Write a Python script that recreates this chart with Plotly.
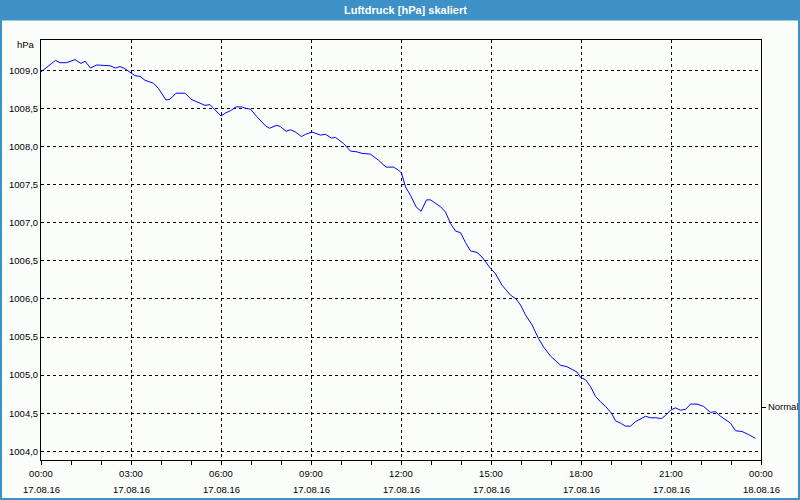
import plotly.graph_objects as go

# ---------------- data ----------------
DAY = "2016-08-17"
times = [
    "00:00", "00:29", "00:38", "00:51", "01:08", "01:20", "01:28", "01:39", "01:51", "02:18",
    "02:29", "02:38", "02:48", "03:00", "03:08", "03:18", "03:28", "03:45", "03:55", "04:10",
    "04:18", "04:30", "04:48", "05:00", "05:15", "05:28", "05:38", "05:48", "06:00", "06:09",
    "06:19", "06:30", "06:41", "06:50", "06:59", "07:12", "07:29", "07:37", "07:52", "07:59",
    "08:10", "08:19", "08:29", "08:41", "08:49", "09:02", "09:09", "09:19", "09:29", "09:41",
    "09:49", "10:05", "10:19", "10:32", "10:42", "10:59", "11:15", "11:30", "11:45", "11:55",
    "12:01", "12:09", "12:19", "12:30", "12:40", "12:51", "12:59", "13:07", "13:19", "13:29",
    "13:39", "13:49", "13:59", "14:09", "14:19", "14:32", "14:42", "14:59", "15:09", "15:22",
    "15:39", "15:50", "15:59", "16:09", "16:22", "16:35", "16:45", "16:59", "17:19", "17:32",
    "17:42", "17:52", "17:59", "18:09", "18:19", "18:29", "18:39", "18:49", "19:01", "19:09",
    "19:19", "19:29", "19:39", "19:49", "20:09", "20:19", "20:29", "20:41", "20:49", "20:59",
    "21:09", "21:19", "21:29", "21:39", "21:52", "22:05", "22:19", "22:29", "22:39", "22:52",
    "22:59", "23:09", "23:22", "23:35", "23:49",
]
pressure = [
    1008.98, 1009.13, 1009.10, 1009.10, 1009.14, 1009.09, 1009.12, 1009.03, 1009.07, 1009.06,
    1009.03, 1009.05, 1009.02, 1008.96, 1008.93, 1008.92, 1008.87, 1008.83, 1008.76, 1008.61,
    1008.62, 1008.70, 1008.70, 1008.62, 1008.58, 1008.54, 1008.55, 1008.48, 1008.40, 1008.44,
    1008.47, 1008.52, 1008.52, 1008.50, 1008.49, 1008.39, 1008.27, 1008.24, 1008.28, 1008.26,
    1008.20, 1008.22, 1008.19, 1008.13, 1008.16, 1008.19, 1008.17, 1008.15, 1008.16, 1008.11,
    1008.12, 1008.04, 1007.94, 1007.93, 1007.91, 1007.90, 1007.82, 1007.73, 1007.73, 1007.69,
    1007.65, 1007.47, 1007.36, 1007.21, 1007.15, 1007.30, 1007.30, 1007.26, 1007.21, 1007.14,
    1006.99, 1006.89, 1006.87, 1006.74, 1006.63, 1006.61, 1006.55, 1006.40, 1006.33, 1006.18,
    1006.05, 1006.00, 1005.92, 1005.79, 1005.66, 1005.48, 1005.37, 1005.25, 1005.13, 1005.11,
    1005.08, 1005.04, 1004.97, 1004.94, 1004.85, 1004.72, 1004.65, 1004.59, 1004.50, 1004.40,
    1004.37, 1004.33, 1004.33, 1004.39, 1004.46, 1004.44, 1004.44, 1004.43, 1004.47, 1004.54,
    1004.57, 1004.54, 1004.55, 1004.62, 1004.62, 1004.59, 1004.51, 1004.52, 1004.46, 1004.40,
    1004.37, 1004.27, 1004.26, 1004.22, 1004.17,
]
x_tick_vals = ["2016-08-17 00:00", "2016-08-17 03:00", "2016-08-17 06:00", "2016-08-17 09:00",
               "2016-08-17 12:00", "2016-08-17 15:00", "2016-08-17 18:00", "2016-08-17 21:00",
               "2016-08-18 00:00"]
x_tick_times = ["00:00", "03:00", "06:00", "09:00", "12:00", "15:00", "18:00", "21:00", "00:00"]
x_tick_dates = ["17.08.16", "17.08.16", "17.08.16", "17.08.16", "17.08.16",
                "17.08.16", "17.08.16", "17.08.16", "18.08.16"]
y_tick_vals = [1004.0, 1004.5, 1005.0, 1005.5, 1006.0, 1006.5, 1007.0, 1007.5, 1008.0, 1008.5, 1009.0]
y_tick_text = ["1004,0", "1004,5", "1005,0", "1005,5", "1006,0", "1006,5",
               "1007,0", "1007,5", "1008,0", "1008,5", "1009,0"]
normal_value = 1004.58
normal_label = "Normal"
title_text = "Luftdruck [hPa] skaliert"
unit_text = "hPa"

# ---------------- layout geometry ----------------
W, H = 800, 500
ML, MR, MT, MB = 41, 39, 40, 40
PW, PH = W - ML - MR, H - MT - MB
BAR = "#3d91c7"
BG = "#fbfdfb"
FONT = "Liberation Sans"


def px(x):
    return (x - ML) / PW


def py(y):
    return 1 - (y - MT) / PH


x_data = [f"{DAY} {t}" for t in times]
y_range = [1003.886, 1009.398]

fig = go.Figure()
fig.add_trace(go.Scatter(x=x_data, y=pressure, mode="lines",
                         line=dict(color="#0000ff", width=1), hoverinfo="skip",
                         showlegend=False))
# invisible trace to activate right axis
fig.add_trace(go.Scatter(x=[x_data[0]], y=[normal_value], yaxis="y2", mode="markers",
                         marker=dict(opacity=0), hoverinfo="skip", showlegend=False))

fig.update_layout(
    width=W, height=H,
    margin=dict(l=ML, r=MR, t=MT, b=MB, pad=0, autoexpand=False),
    paper_bgcolor=BG, plot_bgcolor=BG,
    font=dict(family=FONT, size=9, color="#000000"),
    showlegend=False,
    xaxis=dict(
        type="date", automargin=False,
        range=["2016-08-17 00:00", "2016-08-18 00:00"],
        tickmode="array", tickvals=x_tick_vals, ticktext=x_tick_times,
        ticks="outside", ticklen=4, tickcolor="#000000", tickwidth=1,
        minor=dict(dtick=3600000, ticks="outside", ticklen=4, tickcolor="#000000",
                   tickwidth=1, showgrid=False),
        showgrid=True, gridcolor="#000000", gridwidth=1, griddash="3px,3px",
        showline=True, linecolor="#000000", linewidth=1, mirror=True,
        zeroline=False, tickfont=dict(family=FONT, size=9.5, color="#000000"),
        ticklabelstandoff=1,
    ),
    yaxis=dict(
        range=y_range, automargin=False,
        tickmode="array", tickvals=y_tick_vals, ticktext=y_tick_text,
        ticks="", showgrid=True, gridcolor="#000000", gridwidth=1, griddash="3px,3px",
        showline=True, linecolor="#000000", linewidth=1, mirror=True,
        zeroline=False, tickfont=dict(family=FONT, size=9.5, color="#000000"),
    ),
    yaxis2=dict(
        overlaying="y", side="right", range=y_range, automargin=False,
        tickmode="array", tickvals=[normal_value], ticktext=[normal_label],
        ticks="outside", ticklen=4, tickcolor="#000000",
        showgrid=False, showline=False, zeroline=False,
        tickfont=dict(family=FONT, size=9.5, color="#000000"),
        ticklabelstandoff=0,
    ),
)

# title bar and window border
fig.add_shape(type="rect", xref="paper", yref="paper", layer="below",
              x0=px(0), x1=px(W), y0=py(20.5), y1=py(0),
              fillcolor=BAR, line=dict(width=0))
fig.add_shape(type="rect", xref="paper", yref="paper",
              x0=px(0), x1=px(W), y0=py(H), y1=py(0),
              fillcolor="rgba(0,0,0,0)", line=dict(color=BAR, width=4))

annotations = [
    dict(text=f"<b>{title_text}</b>", xref="paper", yref="paper", x=px(405), y=py(10),
         xanchor="center", yanchor="middle", showarrow=False,
         font=dict(family=FONT, size=11, color="#ffffff")),
    dict(text=unit_text, xref="paper", yref="paper", x=px(37), y=py(45),
         xanchor="right", yanchor="middle", showarrow=False,
         font=dict(family=FONT, size=9.5, color="#000000")),
]
for tv, td in zip(x_tick_vals, x_tick_dates):
    annotations.append(dict(text=td, xref="x", yref="paper", x=tv, y=py(489),
                            xanchor="center", yanchor="middle", showarrow=False,
                            font=dict(family=FONT, size=9.5, color="#000000")))
fig.update_layout(annotations=annotations)

fig.write_html("out.html",
               config={"displayModeBar": False, "staticPlot": True},
               post_script="document.body.style.margin='0';document.body.style.padding='0';"
                           "document.body.style.overflow='hidden';")
